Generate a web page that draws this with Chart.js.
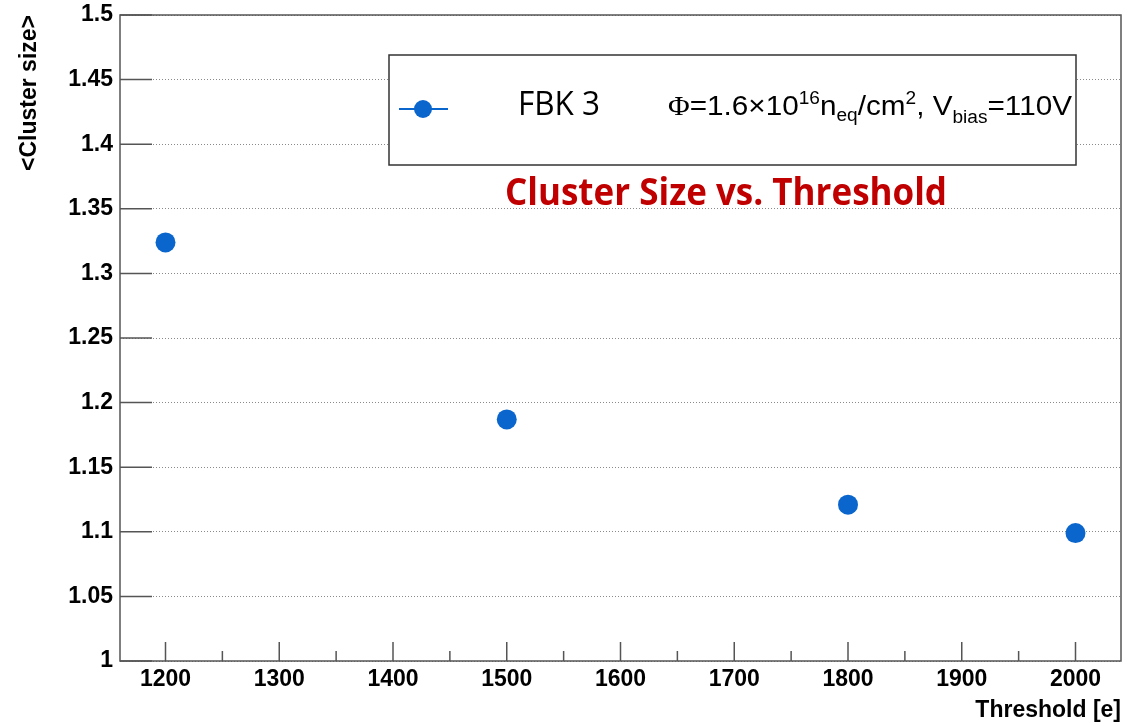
<!DOCTYPE html>
<html lang="en">
<head>
  <meta charset="utf-8" />
  <title>Cluster Size vs. Threshold</title>
  <script src="https://cdn.jsdelivr.net/npm/chart.js@4.4.4/dist/chart.umd.min.js"></script>
  <style>
    html, body { margin: 0; padding: 0; background: #fff; }
  </style>
</head>
<body>
  <canvas id="stage" width="1134" height="726"></canvas>

  <script>
    // data
    const thresholds = [1200, 1500, 1800, 2000];
    const clusterSize = [1.324, 1.187, 1.121, 1.099];

    const xTicks = [1200, 1300, 1400, 1500, 1600, 1700, 1800, 1900, 2000];
    const xTickLabels = ['1200', '1300', '1400', '1500', '1600', '1700', '1800', '1900', '2000'];
    const xMinorTicks = [1250, 1350, 1450, 1550, 1650, 1750, 1850, 1950];
    const yTicks = [1, 1.05, 1.1, 1.15, 1.2, 1.25, 1.3, 1.35, 1.4, 1.45, 1.5];
    const yTickLabels = ['1', '1.05', '1.1', '1.15', '1.2', '1.25', '1.3', '1.35', '1.4', '1.45', '1.5'];

    const seriesName = 'FBK 3';
    const chartTitle = 'Cluster Size vs. Threshold';
    const xTitle = 'Threshold [e]';
    const yTitle = '<Cluster size>';

    const blue = '#0a66cc';
    const frame = '#555';
    const axisFont = 'Liberation Sans, Arial, sans-serif';

    // draw text squeezed/stretched to a given width
    function fitText(ctx, text, x, y, w) {
      const m = ctx.measureText(text).width;
      ctx.save();
      ctx.translate(x, y);
      ctx.scale(w / m, 1);
      ctx.fillText(text, 0, 0);
      ctx.restore();
    }

    // legend formula, pieces with size and baseline shift
    const formula = [
      { t: 'Φ', size: 28, dy: 0, serif: true },
      { t: '=1.6×10', size: 28, dy: 0 },
      { t: '16', size: 18, dy: -11 },
      { t: 'n', size: 28, dy: 0 },
      { t: 'eq', size: 18, dy: 6 },
      { t: '/cm', size: 28, dy: 0 },
      { t: '2', size: 18, dy: -11 },
      { t: ', V', size: 28, dy: 0 },
      { t: 'bias', size: 18, dy: 8 },
      { t: '=110V', size: 28, dy: 0 }
    ];

    function drawFormula(ctx, x, y, w) {
      const font = p => `${p.size}px ${p.serif ? 'Liberation Serif, serif' : axisFont}`;
      let total = 0;
      formula.forEach(p => { ctx.font = font(p); total += ctx.measureText(p.t).width; });
      ctx.save();
      ctx.translate(x, y);
      ctx.scale(w / total, 1);
      let cx = 0;
      formula.forEach(p => {
        ctx.font = font(p);
        ctx.fillText(p.t, cx, p.dy);
        cx += ctx.measureText(p.t).width;
      });
      ctx.restore();
    }

    const rootLook = {
      id: 'rootLook',
      afterDraw(chart) {
        const { ctx, chartArea: a, scales: { x, y } } = chart;
        ctx.save();

        // inward tick marks
        ctx.strokeStyle = frame;
        ctx.lineWidth = 1.5;
        ctx.beginPath();
        xTicks.forEach(v => {
          const px = x.getPixelForValue(v);
          ctx.moveTo(px, a.bottom);
          ctx.lineTo(px, a.bottom - 19);
        });
        xMinorTicks.forEach(v => {
          const px = x.getPixelForValue(v);
          ctx.moveTo(px, a.bottom);
          ctx.lineTo(px, a.bottom - 10);
        });
        yTicks.forEach(v => {
          const py = y.getPixelForValue(v);
          ctx.moveTo(a.left, py);
          ctx.lineTo(a.left + 32, py);
        });
        ctx.stroke();

        // frame
        ctx.strokeRect(a.left, a.top, a.right - a.left, a.bottom - a.top);

        // legend box
        ctx.fillStyle = '#fff';
        ctx.fillRect(389, 55, 687, 110);
        ctx.strokeStyle = '#333';
        ctx.lineWidth = 1.5;
        ctx.strokeRect(389, 55, 687, 110);

        ctx.strokeStyle = blue;
        ctx.lineWidth = 2;
        ctx.beginPath();
        ctx.moveTo(399, 109);
        ctx.lineTo(448, 109);
        ctx.stroke();
        ctx.fillStyle = blue;
        ctx.beginPath();
        ctx.arc(423, 109, 9, 0, Math.PI * 2);
        ctx.fill();

        ctx.fillStyle = '#000';
        ctx.textBaseline = 'alphabetic';
        ctx.font = '32px Open Sans, sans-serif';
        fitText(ctx, seriesName, 518, 115, 82);
        drawFormula(ctx, 668, 115, 404);

        // title
        ctx.fillStyle = '#c00000';
        ctx.font = 'bold 38px Open Sans, sans-serif';
        fitText(ctx, chartTitle, 505, 205, 442);

        ctx.restore();
      }
    };

    new Chart(document.getElementById('stage'), {
      type: 'scatter',
      data: {
        datasets: [{
          label: seriesName,
          data: thresholds.map((t, i) => ({ x: t, y: clusterSize[i] })),
          backgroundColor: blue,
          borderColor: blue,
          borderWidth: 0,
          pointRadius: 10,
          pointHoverRadius: 10
        }]
      },
      options: {
        responsive: false,
        animation: false,
        layout: { padding: { top: 15, right: 13, left: 0, bottom: 0 } },
        plugins: {
          legend: { display: false },
          tooltip: { enabled: false }
        },
        scales: {
          x: {
            type: 'linear',
            min: 1160,
            max: 2040,
            afterBuildTicks: s => { s.ticks = xTicks.map(v => ({ value: v })); },
            afterFit: s => { s.height = 65; s.paddingLeft = 0; s.paddingRight = 0; },
            grid: { display: false, drawTicks: false },
            border: { display: false },
            ticks: {
              color: '#000',
              padding: 5,
              maxRotation: 0,
              font: { family: axisFont, size: 23, weight: 'bold' },
              callback: (v, i) => xTickLabels[i]
            },
            title: {
              display: true,
              text: xTitle,
              align: 'end',
              color: '#000',
              padding: { top: 0, bottom: 2 },
              font: { family: axisFont, size: 23, weight: 'bold' }
            }
          },
          y: {
            type: 'linear',
            min: 1,
            max: 1.5,
            afterBuildTicks: s => { s.ticks = yTicks.map(v => ({ value: v })); },
            afterFit: s => { s.width = 120; s.paddingTop = 0; s.paddingBottom = 0; },
            grid: { display: true, drawTicks: false, color: '#8a8a8a', lineWidth: 1 },
            border: { display: false, dash: [1, 2] },
            ticks: {
              color: '#000',
              padding: 7,
              font: { family: axisFont, size: 23, weight: 'bold' },
              callback: (v, i) => yTickLabels[i]
            },
            title: {
              display: true,
              text: yTitle,
              align: 'end',
              color: '#000',
              padding: { top: 16, bottom: 0 },
              font: { family: axisFont, size: 23, weight: 'bold' }
            }
          }
        }
      },
      plugins: [rootLook]
    });
  </script>
</body>
</html>
